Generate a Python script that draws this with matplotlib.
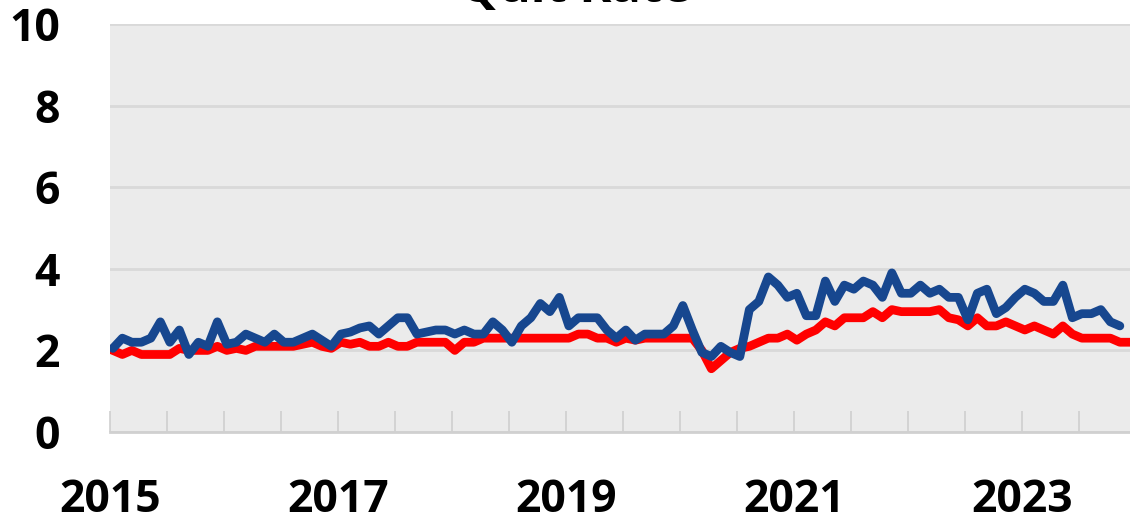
import numpy as np
import pandas as pd
import matplotlib
matplotlib.use('Agg')
import matplotlib.pyplot as plt

# monthly quit rate, Jan 2015 onwards
blue_vals = [2.05, 2.3, 2.2, 2.2, 2.3, 2.7, 2.2, 2.5, 1.9, 2.2, 2.1, 2.7,
             2.15, 2.2, 2.4, 2.3, 2.2, 2.4, 2.2, 2.2, 2.3, 2.4, 2.25, 2.1,
             2.4, 2.45, 2.55, 2.6, 2.4, 2.6, 2.8, 2.8, 2.4, 2.45, 2.5, 2.5,
             2.4, 2.5, 2.4, 2.4, 2.7, 2.5, 2.2, 2.6, 2.8, 3.15, 2.95, 3.3,
             2.6, 2.8, 2.8, 2.8, 2.5, 2.3, 2.5, 2.25, 2.4, 2.4, 2.4, 2.6,
             3.1, 2.5, 1.95, 1.85, 2.1, 1.95, 1.85, 3.0, 3.2, 3.8, 3.6, 3.3,
             3.4, 2.85, 2.85, 3.7, 3.2, 3.6, 3.5, 3.7, 3.6, 3.3, 3.9, 3.4,
             3.4, 3.6, 3.4, 3.5, 3.3, 3.3, 2.75, 3.4, 3.5, 2.9, 3.05, 3.3,
             3.5, 3.4, 3.2, 3.2, 3.6, 2.8, 2.9, 2.9, 3.0, 2.7, 2.6]

red_vals = [2.0, 1.9, 2.0, 1.9, 1.9, 1.9, 1.9, 2.05, 2.0, 2.0, 2.0, 2.1,
            2.0, 2.05, 2.0, 2.1, 2.1, 2.1, 2.1, 2.1, 2.15, 2.2, 2.1, 2.05,
            2.2, 2.15, 2.2, 2.1, 2.1, 2.2, 2.1, 2.1, 2.2, 2.2, 2.2, 2.2,
            2.0, 2.2, 2.2, 2.3, 2.3, 2.3, 2.3, 2.3, 2.3, 2.3, 2.3, 2.3,
            2.3, 2.4, 2.4, 2.3, 2.3, 2.2, 2.3, 2.25, 2.3, 2.3, 2.3, 2.3,
            2.3, 2.3, 2.0, 1.55, 1.75, 1.95, 2.05, 2.1, 2.2, 2.3, 2.3, 2.4,
            2.25, 2.4, 2.5, 2.7, 2.6, 2.8, 2.8, 2.8, 2.95, 2.8, 3.0, 2.95,
            2.95, 2.95, 2.95, 3.0, 2.8, 2.75, 2.6, 2.8, 2.6, 2.6, 2.7, 2.6,
            2.5, 2.6, 2.5, 2.4, 2.6, 2.4, 2.3, 2.3, 2.3, 2.3, 2.2, 2.2]

year_labels = ['2015', '2017', '2019', '2021', '2023']

# decimal year of each monthly point
blue_x = 2015 + (np.arange(len(blue_vals)) + 0.3) / 12
red_x = 2015 + (np.arange(len(red_vals)) + 0.3) / 12

plt.rcParams['font.family'] = ['Open Sans', 'DejaVu Sans']

fig = plt.figure(figsize=(11.3, 5.22), dpi=100)
ax = fig.add_axes([110 / 1130, 90 / 522, 1020 / 1130, 408 / 522])
ax.set_facecolor('#ebebeb')

ax.plot(red_x, red_vals, color='#ff0000', lw=6.3, solid_joinstyle='round', zorder=3)
ax.plot(blue_x, blue_vals, color='#17478f', lw=6.3, solid_joinstyle='round',
        solid_capstyle='round', zorder=4)

ax.set_ylim(0, 10)
ax.set_yticks([0, 2, 4, 6, 8, 10])
ax.set_xlim(2015, 2015 + 1020 / 114)
half_years = np.arange(2015, 2024, 0.5)
ax.set_xticks(half_years)
ax.set_xticklabels([str(int(t)) if str(int(t)) in year_labels and t % 1 == 0 else ''
                    for t in half_years])

ax.grid(axis='y', color='#d9d9d9', lw=2)
ax.set_axisbelow(True)
for side in ['left', 'right', 'top']:
    ax.spines[side].set_visible(False)
ax.spines['bottom'].set_color('#d0d0d0')
ax.spines['bottom'].set_linewidth(2)

ax.tick_params(axis='y', length=0, pad=36, labelsize=32)
ax.tick_params(axis='x', direction='in', length=15, width=1.2, color='#cfcfcf',
               pad=33, labelsize=32)
for lbl in ax.get_xticklabels() + ax.get_yticklabels():
    lbl.set_fontweight('bold')

# title sits mostly above the top edge, as in the source image
fig.text(575 / 1130, 1 - 1.5 / 522, 'Quit Rate', ha='center', va='baseline',
         fontsize=35, fontweight='bold')

fig.savefig('out.png', dpi=100)
